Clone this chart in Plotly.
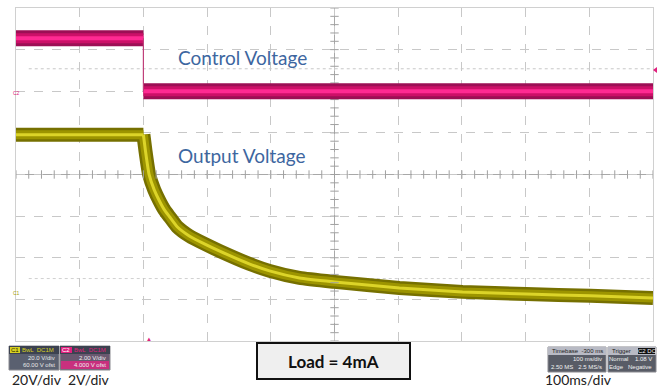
import numpy as np
import plotly.graph_objects as go

# ---------------- data ----------------
# time in ms (trigger at 0), 100 ms/div
ctrl_t = [-200, 0, 0, 800]
ctrl_v = [2.55, 2.55, 0.0, 0.0]          # Control Voltage (C2, 2 V/div)

out_t = [-200, 0, 3, 9, 17, 25, 33, 41, 53, 72, 99, 119, 166, 198, 245, 300, 402, 501, 601, 702, 800]
out_v = [79.1, 79.1, 71.9, 59.9, 52.6, 47.4, 43.0, 39.7, 34.9, 30.5, 26.2, 23.3, 17.1, 13.7,
         10.3, 8.4, 5.5, 3.6, 2.6, 1.7, 0.7]  # Output Voltage (C1, 20 V/div)

labels = ["Control Voltage", "Output Voltage"]
scale_labels = ["20V/div", "2V/div", "100ms/div"]
load_label = "Load = 4mA"

# ---------------- geometry ----------------
W, H = 657, 389
L, R, T, B = 16, 653, 8, 341
PW, PH = R - L, B - T


def px(x):
    return (x - L) / PW


def py(y):
    return (B - y) / PH


fig = go.Figure()

# Control voltage (pink) – layered band
for w, c in [(16, "#9c0f55"), (10, "#cc1068"), (4, "#ff2a92")]:
    fig.add_trace(go.Scatter(x=ctrl_t[:2], y=ctrl_v[:2], mode="lines", yaxis="y2",
                             line=dict(color=c, width=w), hoverinfo="skip", showlegend=False))
    fig.add_trace(go.Scatter(x=ctrl_t[2:], y=ctrl_v[2:], mode="lines", yaxis="y2",
                             line=dict(color=c, width=w), hoverinfo="skip", showlegend=False))
# thin falling edge
fig.add_trace(go.Scatter(x=[ctrl_t[1], ctrl_t[2]], y=[ctrl_v[1], ctrl_v[2]], mode="lines", yaxis="y2",
                         line=dict(color="#c0407a", width=1.2), hoverinfo="skip", showlegend=False))

# Output voltage (olive/yellow) – layered band; flat part linear, decay smoothed
for w, c in [(14, "#767000"), (9, "#9c9400"), (3, "#dcd428")]:
    fig.add_trace(go.Scatter(x=out_t[:2], y=out_v[:2], mode="lines",
                             line=dict(color=c, width=w), hoverinfo="skip", showlegend=False))
    fig.add_trace(go.Scatter(x=out_t[1:], y=out_v[1:], mode="lines", line_shape="spline",
                             line=dict(color=c, width=w, smoothing=0.5),
                             hoverinfo="skip", showlegend=False))

# centre axis tick marks (graticule decoration)
xt = np.arange(-200, 801, 20)
yt = np.arange(-20, 141, 4)
fig.add_trace(go.Scatter(x=xt, y=[60] * len(xt), mode="markers",
                         marker=dict(symbol="line-ns-open", size=6, color="#a0a0a0", line=dict(width=1)),
                         hoverinfo="skip", showlegend=False))
fig.add_trace(go.Scatter(x=[300] * len(yt), y=yt, mode="markers",
                         marker=dict(symbol="line-ew-open", size=6, color="#a0a0a0", line=dict(width=1)),
                         hoverinfo="skip", showlegend=False))

shapes = []
# centre axes
shapes.append(dict(type="line", xref="x", yref="y", x0=-200, x1=800, y0=60, y1=60,
                   line=dict(color="#a8a8a8", width=1), layer="below"))
shapes.append(dict(type="line", xref="x", yref="y", x0=300, x1=300, y0=-20, y1=140,
                   line=dict(color="#a8a8a8", width=1), layer="below"))
# trigger level / reference dotted lines
shapes.append(dict(type="line", xref="x", yref="y2", x0=-180, x1=800, y0=1.08, y1=1.08,
                   line=dict(color="#c8c8c8", width=1, dash="dot"), layer="below"))
shapes.append(dict(type="line", xref="x", yref="y", x0=-180, x1=800, y0=10, y1=10,
                   line=dict(color="#d0d0d0", width=1, dash="dot"), layer="below"))

# Load box
shapes.append(dict(type="rect", xref="paper", yref="paper", x0=px(257), x1=px(410), y0=py(379), y1=py(343),
                   fillcolor="#efefef", line=dict(color="#111111", width=2)))

# scope info boxes
def info_box(x0, x1, y0, y1, body, tagcol):
    shapes.append(dict(type="rect", xref="paper", yref="paper", x0=px(x0), x1=px(x1), y0=py(y1), y1=py(y0),
                       fillcolor=body, line=dict(color="#8a8a90", width=1)))
    shapes.append(dict(type="rect", xref="paper", yref="paper", x0=px(x0), x1=px(x1), y0=py(y0 + 8), y1=py(y0),
                       fillcolor=tagcol, line=dict(width=0)))


info_box(9, 59, 346, 370, "#5a6070", "#3c4250")
info_box(60, 110, 346, 370, "#6a5870", "#3c4250")
shapes.append(dict(type="rect", xref="paper", yref="paper", x0=px(61), x1=px(109), y0=py(369), y1=py(361),
                   fillcolor="#c8307e", line=dict(width=0)))
shapes.append(dict(type="rect", xref="paper", yref="paper", x0=px(10), x1=px(20), y0=py(353), y1=py(347),
                   fillcolor="#d8d020", line=dict(width=0)))
shapes.append(dict(type="rect", xref="paper", yref="paper", x0=px(61), x1=px(72), y0=py(353), y1=py(347),
                   fillcolor="#e0207e", line=dict(width=0)))
info_box(548, 606, 347, 372, "#585c66", "#b8bac4")
info_box(608, 656, 347, 372, "#585c66", "#b8bac4")
shapes.append(dict(type="rect", xref="paper", yref="paper", x0=px(638), x1=px(655), y0=py(354), y1=py(348),
                   fillcolor="#111111", line=dict(width=0)))
# right-edge trigger level marker
shapes.append(dict(type="path", xref="paper", yref="paper",
                   path=f"M {px(653)},{py(70)} L {px(657)},{py(67)} L {px(657)},{py(73)} Z",
                   fillcolor="#e0207e", line=dict(width=0)))

annotations = []
annotations.append(dict(xref="paper", yref="paper", x=px(176), y=py(57), xanchor="left", yanchor="middle",
                        text=labels[0], showarrow=False, font=dict(family="Lato", size=19, color="#3d66a0")))
annotations.append(dict(xref="paper", yref="paper", x=px(176), y=py(155), xanchor="left", yanchor="middle",
                        text=labels[1], showarrow=False, font=dict(family="Lato", size=19, color="#3d66a0")))
annotations.append(dict(xref="paper", yref="paper", x=px(333), y=py(361), xanchor="center", yanchor="middle",
                        text="<b>" + load_label + "</b>", showarrow=False,
                        font=dict(family="Lato", size=17, color="#111111")))
for txt, xx in zip(scale_labels, [10, 66, 543]):
    annotations.append(dict(xref="paper", yref="paper", x=px(xx), y=py(380), xanchor="left", yanchor="middle",
                            text=txt, showarrow=False, font=dict(family="Lato", size=14, color="#222222")))

small = dict(family="Liberation Sans", size=6, color="#f0f0f0")
for txt, x, y, anc, col in [
    ("C1", 15, 350, "center", "#222200"), ("BwL  DC1M", 56, 350, "right", "#d8d020"),
    ("20.0 V/div", 57, 358, "right", "#e8e8e8"), ("60.00 V ofst", 57, 365, "right", "#e8e8e8"),
    ("C2", 66, 350, "center", "#ffffff"), ("BwL  DC1M", 108, 350, "right", "#e0207e"),
    ("2.00 V/div", 108, 358, "right", "#f0f0f0"), ("4.000 V ofst", 108, 365, "right", "#f0f0f0"),
    ("Timebase  -300 ms", 550, 351, "left", "#202020"), ("100 ms/div", 604, 359, "right", "#f0f0f0"),
    ("2.50 MS   2.5 MS/s", 604, 367, "right", "#f0f0f0"),
    ("Trigger", 610, 351, "left", "#202020"), ("C2 DC", 647, 351, "center", "#f0f0f0"),
    ("Normal    1.08 V", 654, 359, "right", "#f0f0f0"), ("Edge   Negative", 654, 367, "right", "#f0f0f0"),
]:
    annotations.append(dict(xref="paper", yref="paper", x=px(x), y=py(y), xanchor=anc, yanchor="middle",
                            text=txt, showarrow=False, font=dict(small, color=col)))

# channel / trigger markers
annotations.append(dict(xref="paper", yref="paper", x=px(11), y=py(88), text="C2", showarrow=False,
                        font=dict(family="Liberation Sans", size=5, color="#e0207e")))
annotations.append(dict(xref="paper", yref="paper", x=px(11), y=py(298), text="C1", showarrow=False,
                        font=dict(family="Liberation Sans", size=5, color="#a8a000")))
annotations.append(dict(xref="paper", yref="paper", x=px(144), y=py(345), text="▲", showarrow=False,
                        font=dict(size=6, color="#e0207e")))

fig.update_layout(
    width=W, height=H,
    margin=dict(l=L, r=W - R, t=T, b=H - B),
    paper_bgcolor="white", plot_bgcolor="white",
    xaxis=dict(range=[-200, 800], dtick=100, tick0=-200, showgrid=True, gridcolor="#c8c8c8",
               griddash="dash", gridwidth=1, zeroline=False, showticklabels=False, ticks="",
               showline=True, mirror=True, linecolor="#d0d0d0"),
    yaxis=dict(range=[-20, 140], dtick=20, tick0=-20, showgrid=True, gridcolor="#c8c8c8",
               griddash="dash", gridwidth=1, zeroline=False, showticklabels=False, ticks="",
               showline=True, mirror=True, linecolor="#d0d0d0"),
    yaxis2=dict(range=[-12, 4], overlaying="y", visible=False, showgrid=False),
    shapes=shapes, annotations=annotations, showlegend=False,
)

fig.write_html("out.html", config={"displayModeBar": False},
               post_script="document.body.style.margin='0';document.body.style.overflow='hidden';")
